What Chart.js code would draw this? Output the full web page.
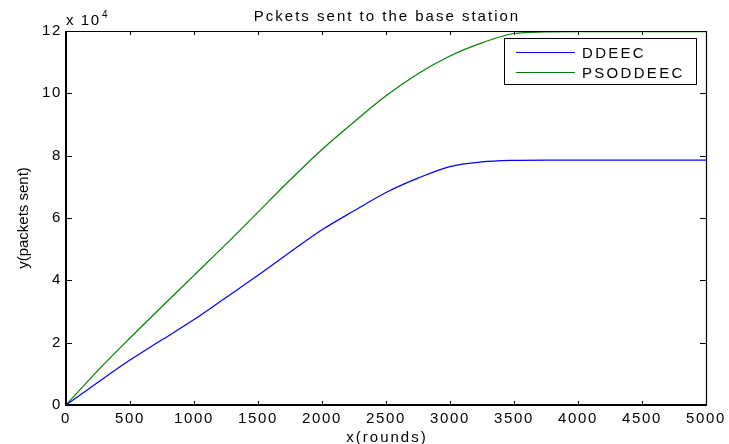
<!DOCTYPE html>
<html>
<head>
<meta charset="utf-8">
<script src="https://cdn.jsdelivr.net/npm/chart.js@4.4.0/dist/chart.umd.min.js"></script>
<style>
    html, body { margin: 0; padding: 0; background: #fff; }
    #wrap { width: 729px; height: 444px; }
</style>
</head>
<body>
<div id="wrap"><canvas id="myChart" width="729" height="444"></canvas></div>
<script>
// values (packets sent, per round)
const rounds = [0, 250, 500, 750, 1000, 1250, 1500, 1750, 2000, 2250, 2500,
    2750, 3000, 3250, 3500, 3750, 4000, 4250, 4500, 4750, 5000];
const ddeec = [0, 7300, 14400, 20900, 27400, 34500, 41600, 49000, 56200, 62300, 68200,
    72800, 76500, 78000, 78500, 78600, 78600, 78600, 78600, 78600, 78600];
const psoddeec = [0, 11100, 21500, 31600, 41600, 51600, 61900, 72200, 82000, 90800, 99200,
    106300, 112000, 116200, 119200, 119700, 119800, 119800, 119800, 119800, 119800];
const seriesNames = ['DDEEC', 'PSODDEEC'];
const seriesColors = ['#0000ff', '#008000'];
const xTicks = [0, 500, 1000, 1500, 2000, 2500, 3000, 3500, 4000, 4500, 5000];
const yTicks = [0, 2, 4, 6, 8, 10, 12];

const titleText = 'Pckets sent to the base station';
const xTitle = 'x(rounds)';
const yTitle = 'y(packets sent)';

const FONT = "'Liberation Sans', Arial, sans-serif";
const SPACING = '1.6px';

const toPoints = vals => vals.map((v, i) => ({x: rounds[i], y: v}));

const matlabLook = {
    id: 'matlabLook',
    beforeDraw(chart) {
        chart.ctx.letterSpacing = SPACING;
    },
    afterDraw(chart) {
        const ctx = chart.ctx;
        const a = chart.chartArea;
        const xs = chart.scales.x, ys = chart.scales.y;
        ctx.save();
        ctx.strokeStyle = '#000';
        ctx.fillStyle = '#000';

        // inward ticks
        ctx.lineWidth = 1;
        ctx.beginPath();
        xTicks.forEach(t => {
            const px = Math.round(xs.getPixelForValue(t)) + 0.5;
            ctx.moveTo(px, a.bottom); ctx.lineTo(px, a.bottom - 4);
            ctx.moveTo(px, a.top); ctx.lineTo(px, a.top + 4);
        });
        yTicks.forEach(t => {
            const py = Math.round(ys.getPixelForValue(t * 10000)) + 0.5;
            ctx.moveTo(a.left, py); ctx.lineTo(a.left + 6, py);
            ctx.moveTo(a.right, py); ctx.lineTo(a.right - 6, py);
        });
        ctx.stroke();

        // box
        ctx.lineWidth = 1.2;
        ctx.beginPath();
        ctx.moveTo(a.left, a.top + 0.5); ctx.lineTo(a.right + 0.5, a.top + 0.5);
        ctx.lineTo(a.right + 0.5, a.bottom);
        ctx.stroke();
        ctx.lineWidth = 2;
        ctx.beginPath();
        ctx.moveTo(a.left, a.top); ctx.lineTo(a.left, a.bottom);
        ctx.lineTo(a.right + 1, a.bottom);
        ctx.stroke();

        // title
        ctx.letterSpacing = '2px';
        ctx.font = '15px ' + FONT;
        ctx.textAlign = 'center';
        ctx.textBaseline = 'alphabetic';
        ctx.fillText(titleText, (a.left + a.right) / 2 + 1, 21);

        // x title
        ctx.fillText(xTitle, (a.left + a.right) / 2 + 1, 442);

        // exponent
        ctx.letterSpacing = SPACING;
        ctx.textAlign = 'left';
        ctx.fillText('x 10', a.left, 25);
        ctx.font = '10px ' + FONT;
        ctx.fillText('4', a.left + 36, 18);

        // y title
        ctx.letterSpacing = '0px';
        ctx.font = '15px ' + FONT;
        ctx.save();
        ctx.translate(28, (a.top + a.bottom) / 2);
        ctx.rotate(-Math.PI / 2);
        ctx.textAlign = 'center';
        ctx.fillText(yTitle, 0, 0);
        ctx.restore();

        // legend
        const lx = 504.5, ly = 38.5, lw = 192, lh = 46;
        ctx.fillStyle = '#fff';
        ctx.fillRect(lx, ly, lw, lh);
        ctx.strokeStyle = '#000';
        ctx.lineWidth = 1;
        ctx.strokeRect(lx, ly, lw, lh);
        ctx.letterSpacing = '2.3px';
        ctx.font = '15px ' + FONT;
        ctx.textAlign = 'left';
        ctx.textBaseline = 'middle';
        chart.data.datasets.forEach((ds, i) => {
            const y = 52.5 + i * 20;
            ctx.strokeStyle = ds.borderColor;
            ctx.beginPath();
            ctx.moveTo(516, y); ctx.lineTo(575, y);
            ctx.stroke();
            ctx.fillStyle = '#000';
            ctx.fillText(ds.label, 582, y + 1);
        });
        ctx.restore();
    }
};

new Chart(document.getElementById('myChart'), {
    type: 'line',
    data: {
        datasets: [{
            label: seriesNames[0],
            data: toPoints(ddeec),
            borderColor: seriesColors[0],
            borderWidth: 1.2,
            pointRadius: 0,
            cubicInterpolationMode: 'monotone',
        }, {
            label: seriesNames[1],
            data: toPoints(psoddeec),
            borderColor: seriesColors[1],
            borderWidth: 1.2,
            pointRadius: 0,
            cubicInterpolationMode: 'monotone',
        }],
    },
    options: {
        responsive: false,
        animation: false,
        devicePixelRatio: 1,
        layout: {padding: {left: 0, right: 23, top: 31, bottom: 0}},
        plugins: {
            legend: {display: false},
            title: {display: false},
            tooltip: {enabled: false},
        },
        scales: {
            x: {
                type: 'linear',
                min: 0,
                max: 5000,
                grid: {display: false, drawTicks: false},
                border: {display: false},
                afterBuildTicks: s => { s.ticks = xTicks.map(v => ({value: v})); },
                afterFit: s => { s.height = 39; },
                ticks: {
                    color: '#000',
                    padding: 5,
                    maxRotation: 0,
                    font: {size: 15, family: FONT},
                    callback: v => String(v),
                },
            },
            y: {
                type: 'linear',
                min: 0,
                max: 120000,
                grid: {display: false, drawTicks: false},
                border: {display: false},
                afterBuildTicks: s => { s.ticks = yTicks.map(v => ({value: v * 10000})); },
                afterFit: s => { s.width = 66; },
                ticks: {
                    color: '#000',
                    padding: 4,
                    font: {size: 15, family: FONT},
                    callback: v => String(v / 10000),
                },
            },
        },
    },
    plugins: [matlabLook],
});
</script>
</body>
</html>
